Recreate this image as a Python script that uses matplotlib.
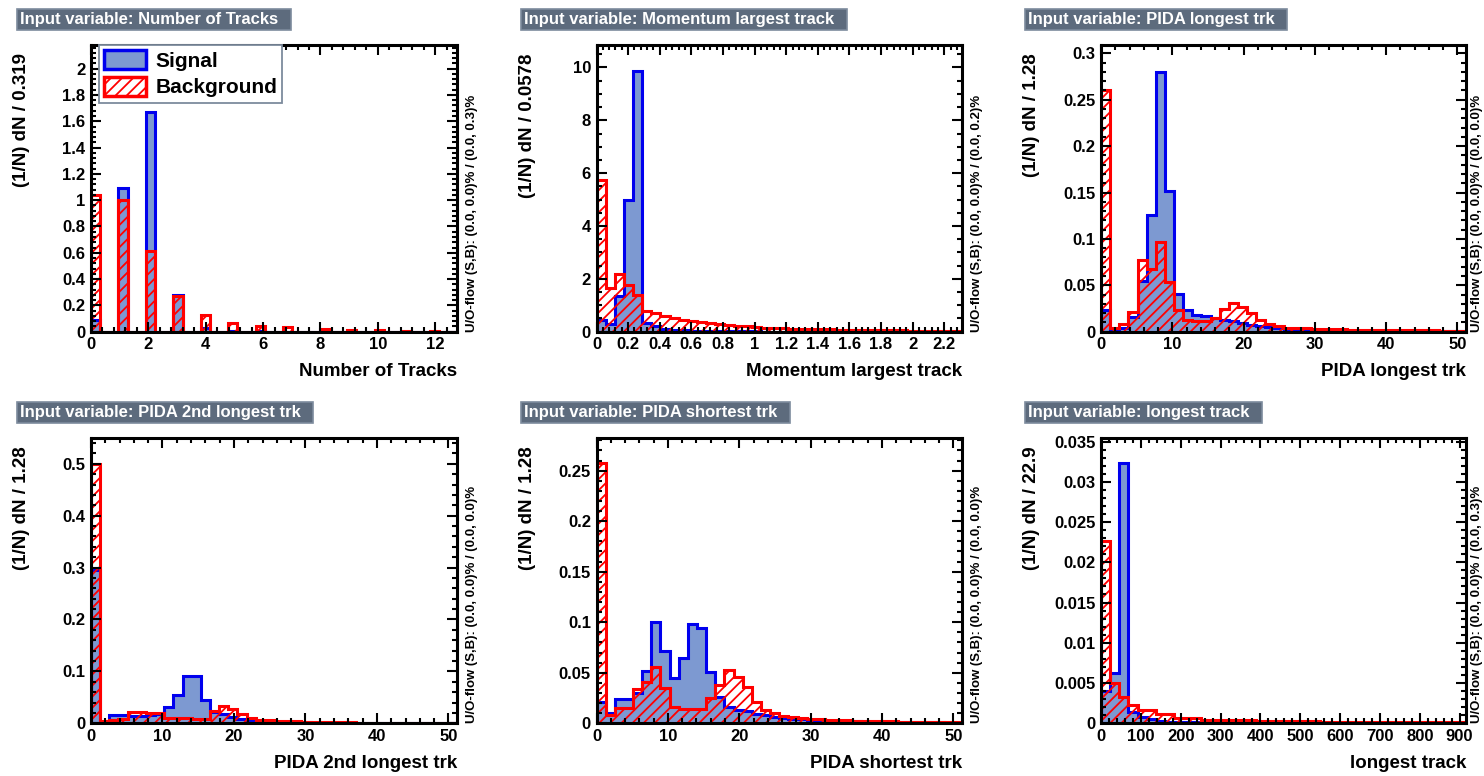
import numpy as np
import matplotlib
matplotlib.use("Agg")
import matplotlib.pyplot as plt
from matplotlib.patches import Patch
from matplotlib.ticker import MultipleLocator, FuncFormatter

plt.rcParams['font.family'] = ['Liberation Sans', 'DejaVu Sans']
plt.rcParams['font.weight'] = 'bold'
plt.rcParams['hatch.linewidth'] = 1.3

# ---- data : 40 bins per variable, normalised (1/N) dN ----
titles = ['Number of Tracks', 'Momentum largest track', 'PIDA longest trk',
          'PIDA 2nd longest trk', 'PIDA shortest trk', 'longest track']
bin_width = [0.319, 0.0578, 1.28, 1.28, 1.28, 22.9]
bin_label = ['0.319', '0.0578', '1.28', '1.28', '1.28', '22.9']
overflow = ['(0.0, 0.0)% / (0.0, 0.3)%', '(0.0, 0.0)% / (0.0, 0.2)%',
            '(0.0, 0.0)% / (0.0, 0.0)%', '(0.0, 0.0)% / (0.0, 0.0)%',
            '(0.0, 0.0)% / (0.0, 0.0)%', '(0.0, 0.0)% / (0.0, 0.3)%']

ntrk_sig = [0.09, 0, 0, 1.09, 0, 0, 1.67, 0, 0, 0.28,
            0, 0, 0.03, 0, 0, 0.005, 0, 0, 0.002, 0,
            0, 0, 0, 0, 0, 0, 0, 0, 0, 0,
            0, 0, 0, 0, 0, 0, 0, 0, 0, 0]
ntrk_bkg = [1.04, 0, 0, 1.0, 0, 0, 0.61, 0, 0, 0.27,
            0, 0, 0.125, 0, 0, 0.065, 0, 0, 0.045, 0,
            0, 0.035, 0, 0, 0, 0.02, 0, 0, 0.015, 0,
            0, 0.012, 0, 0, 0.008, 0, 0, 0.005, 0, 0]

mom_sig = [0.45, 0.3, 1.35, 5.0, 9.85, 0.33, 0.2, 0.12, 0.08, 0.05,
           0.04, 0.03, 0.02, 0.02, 0.015, 0.012, 0.01, 0.008, 0.007, 0.006,
           0.005, 0.005, 0.004, 0.004, 0.003, 0.003, 0.003, 0.002, 0.002, 0.002,
           0.002, 0.001, 0.001, 0.001, 0.001, 0.001, 0.001, 0.001, 0.001, 0.001]
mom_bkg = [5.75, 1.65, 2.2, 1.75, 1.4, 0.8, 0.72, 0.6, 0.5, 0.45,
           0.42, 0.38, 0.34, 0.3, 0.26, 0.23, 0.2, 0.17, 0.15, 0.14,
           0.13, 0.12, 0.11, 0.1, 0.09, 0.09, 0.08, 0.07, 0.07, 0.06,
           0.06, 0.05, 0.05, 0.05, 0.04, 0.04, 0.04, 0.03, 0.03, 0.03]

pida1_sig = [0.023, 0.001, 0.004, 0.016, 0.055, 0.126, 0.28, 0.152, 0.041, 0.023,
             0.018, 0.017, 0.015, 0.013, 0.011, 0.009, 0.007, 0.006, 0.005, 0.004,
             0.003, 0.003, 0.002, 0.002, 0.002, 0.0015, 0.0015, 0.001, 0.001, 0.001,
             0.001, 0.001, 0.0008, 0.0008, 0.0007, 0.0007, 0.0006, 0.0006, 0.0005, 0.0005]
pida1_bkg = [0.26, 0.004, 0.008, 0.0215, 0.077, 0.068, 0.097, 0.054, 0.023, 0.013,
             0.012, 0.012, 0.015, 0.024, 0.031, 0.027, 0.02, 0.0126, 0.008, 0.006,
             0.0045, 0.004, 0.0035, 0.003, 0.003, 0.0025, 0.0025, 0.002, 0.002, 0.002,
             0.002, 0.0015, 0.0015, 0.0015, 0.0015, 0.0015, 0.0015, 0.001, 0.001, 0.001]

pida2_sig = [0.295, 0.003, 0.016, 0.016, 0.015, 0.015, 0.016, 0.018, 0.032, 0.055,
             0.091, 0.091, 0.045, 0.022, 0.017, 0.012, 0.008, 0.006, 0.004, 0.003,
             0.003, 0.002, 0.002, 0.002, 0.0015, 0.0015, 0.001, 0.001, 0.001, 0.001,
             0.001, 0.001, 0.001, 0.0008, 0.0008, 0.0008, 0.0006, 0.0006, 0.0005, 0.0005]
pida2_bkg = [0.50, 0.005, 0.007, 0.008, 0.022, 0.022, 0.02, 0.02, 0.01, 0.01,
             0.01, 0.008, 0.008, 0.024, 0.033, 0.027, 0.018, 0.01, 0.007, 0.007,
             0.005, 0.004, 0.004, 0.003, 0.003, 0.0025, 0.002, 0.002, 0.002, 0.0015,
             0.0015, 0.0015, 0.0012, 0.0012, 0.001, 0.001, 0.001, 0.001, 0.001, 0.001]

pida3_sig = [0.021, 0.0099, 0.024, 0.024, 0.03, 0.052, 0.1006, 0.072, 0.0446, 0.065,
             0.098, 0.094, 0.051, 0.026, 0.016, 0.013, 0.012, 0.009, 0.008, 0.006,
             0.005, 0.004, 0.004, 0.003, 0.003, 0.0025, 0.002, 0.002, 0.002, 0.0015,
             0.0015, 0.0012, 0.0012, 0.001, 0.001, 0.001, 0.0008, 0.0008, 0.0006, 0.0006]
pida3_bkg = [0.258, 0.008, 0.015, 0.015, 0.034, 0.041, 0.056, 0.035, 0.0165, 0.014,
             0.014, 0.014, 0.025, 0.038, 0.053, 0.0455, 0.036, 0.021, 0.013, 0.01,
             0.0075, 0.006, 0.005, 0.0045, 0.004, 0.0035, 0.003, 0.003, 0.0025, 0.0025,
             0.002, 0.002, 0.002, 0.0015, 0.0015, 0.0015, 0.0012, 0.0012, 0.001, 0.001]

long_sig = [0.004, 0.0062, 0.0323, 0.0014, 0.0008, 0.0005, 0.0003, 0.0002, 0.0002, 0.0001,
            0.0001, 0.0001, 0.0001, 0.0001, 0.0001, 0.00008, 0.00008, 0.00006, 0.00006, 0.00005,
            0.00005, 0.00005, 0.00004, 0.00004, 0.00004, 0.00003, 0.00003, 0.00003, 0.00003, 0.00002,
            0.00002, 0.00002, 0.00002, 0.00002, 0.00002, 0.00001, 0.00001, 0.00001, 0.00001, 0.00001]
long_bkg = [0.0226, 0.005, 0.0033, 0.0023, 0.0016, 0.0016, 0.0012, 0.0011, 0.0007, 0.0006,
            0.0006, 0.0004, 0.0004, 0.0004, 0.0004, 0.0004, 0.0004, 0.0003, 0.0003, 0.0003,
            0.0003, 0.0003, 0.0003, 0.0003, 0.0002, 0.0002, 0.0002, 0.0002, 0.0002, 0.0002,
            0.0002, 0.0002, 0.0002, 0.0001, 0.0001, 0.0001, 0.0001, 0.0001, 0.0001, 0.0001]

signals = [ntrk_sig, mom_sig, pida1_sig, pida2_sig, pida3_sig, long_sig]
backgrounds = [ntrk_bkg, mom_bkg, pida1_bkg, pida2_bkg, pida3_bkg, long_bkg]

# ---- styling / layout ----
W, H = 1484, 776
col_left = [91, 596.5, 1101]
col_width = [366, 365.5, 365]
row_top = [45, 438.3]
row_height = [286.7, 285]
title_y = [19.5, 412.5]
title_x = [16, 520, 1024]
uo_offset = [15, 15, 11]   # px right of the frame for the U/O-flow note

ymax = [2.18, 10.85, 0.309, 0.549, 0.282, 0.0354]
xmajor = [2, 0.2, 10, 10, 10, 100]
xminor = [0.4, 0.04, 2, 2, 2, 20]
ymajor = [0.2, 2, 0.05, 0.1, 0.05, 0.005]
yminor = [0.04, 0.5, 0.01, 0.02, 0.01, 0.001]

sig_fill = '#7d99d1'
sig_line = '#0000ee'
bkg_line = '#ff0000'
box_fill = '#5d6b7d'
box_edge = '#7d8b9d'

fig = plt.figure(figsize=(W / 100, H / 100), dpi=100)
fmt = FuncFormatter(lambda v, p: '%g' % round(v, 6))

for i in range(6):
    r, c = i // 3, i % 3
    left = col_left[c] / W
    bottom = (H - row_top[r] - row_height[r]) / H
    ax = fig.add_axes([left, bottom, col_width[c] / W, row_height[r] / H])

    edges = np.arange(41) * bin_width[i]
    ax.stairs(signals[i], edges, fill=True, facecolor=sig_fill, edgecolor='none', linewidth=0)
    ax.stairs(signals[i], edges, color=sig_line, linewidth=2.2)
    ax.stairs(backgrounds[i], edges, fill=True, facecolor='none', edgecolor=bkg_line,
              hatch='///', linewidth=0)
    ax.stairs(backgrounds[i], edges, color=bkg_line, linewidth=2.2)

    ax.set_xlim(0, edges[-1])
    ax.set_ylim(0, ymax[i])
    ax.xaxis.set_major_locator(MultipleLocator(xmajor[i]))
    ax.xaxis.set_minor_locator(MultipleLocator(xminor[i]))
    ax.yaxis.set_major_locator(MultipleLocator(ymajor[i]))
    ax.yaxis.set_minor_locator(MultipleLocator(yminor[i]))
    ax.xaxis.set_major_formatter(fmt)
    ax.yaxis.set_major_formatter(fmt)
    ax.tick_params(which='both', direction='in', top=True, right=True, width=1.5,
                   labelsize=12)
    ax.tick_params(which='major', length=7.5, pad=4)
    ax.tick_params(which='minor', length=3.8)
    for sp in ax.spines.values():
        sp.set_linewidth(2.2)
        sp.set_zorder(5)

    ax.text(1.0, -40 / row_height[r], titles[i], transform=ax.transAxes,
            ha='right', va='center', fontsize=13.5, fontweight='bold')
    ax.text(-69 / col_width[c], 1 - 8 / row_height[r], '(1/N) dN / ' + bin_label[i],
            transform=ax.transAxes, rotation=90, ha='center', va='top',
            fontsize=13.5, fontweight='bold')
    ax.text(1 + uo_offset[c] / col_width[c], 0, 'U/O-flow (S,B): ' + overflow[i],
            transform=ax.transAxes, rotation=90, ha='center', va='bottom',
            fontsize=9.5, fontweight='bold')

    fig.text((title_x[c] + 4) / W, 1 - title_y[r] / H, 'Input variable: ' + titles[i] + '  ',
             color='white', fontsize=12, fontweight='bold', ha='left', va='center',
             bbox=dict(boxstyle='square,pad=0.2', facecolor=box_fill,
                       edgecolor=box_edge, linewidth=1.2))

    if i == 0:
        handles = [Patch(facecolor=sig_fill, edgecolor=sig_line, linewidth=2.5),
                   Patch(facecolor='white', edgecolor=bkg_line, hatch='///', linewidth=2.5)]
        leg = ax.legend(handles, ['Signal', 'Background'], loc='upper left',
                        bbox_to_anchor=(8 / col_width[c], 1.0), borderaxespad=0,
                        prop={'size': 15, 'weight': 'bold'}, handlelength=2.0,
                        handleheight=1.0, handletextpad=0.45, labelspacing=0.3,
                        borderpad=0.25, fancybox=False, framealpha=1)
        leg.get_frame().set_edgecolor(box_edge)
        leg.get_frame().set_linewidth(1.3)
        leg.set_zorder(6)

fig.savefig('out.png', dpi=100)
